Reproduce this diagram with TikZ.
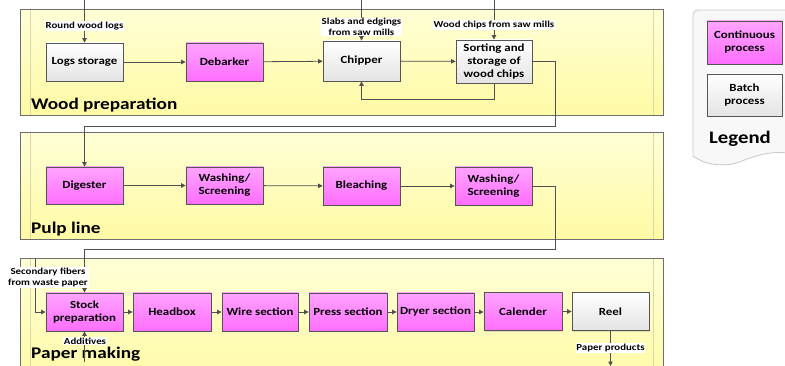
\documentclass[tikz,border=0pt]{standalone}
\usepackage{fontspec}
\setmainfont{Carlito}[FakeStretch=1.18]
\usetikzlibrary{arrows.meta,shadows}
\definecolor{pinktop}{HTML}{FFA4FF}
\definecolor{pinkbot}{HTML}{FF6EFF}
\definecolor{batchbot}{HTML}{E4E4E4}
\definecolor{boxline}{HTML}{555555}
\definecolor{connc}{HTML}{505050}
\definecolor{paneltop}{HTML}{FFFFD6}
\definecolor{panelbot}{HTML}{FFFAA4}
\definecolor{panelline}{HTML}{6E6E6E}
\definecolor{panelinner}{HTML}{D8D8A8}
\definecolor{legfill}{HTML}{F8F8F8}
\definecolor{legline}{HTML}{C8C8C8}
\begin{document}
\begin{tikzpicture}[x=1pt,y=-1pt,
  proc/.style={draw=boxline, line width=0.8pt, minimum width=77pt, minimum height=38pt,
    inner sep=1pt, align=center, font=\fontsize{10.9}{13}\selectfont\bfseries,
    drop shadow={shadow xshift=1.2pt,shadow yshift=-1.2pt,opacity=0.25}},
  cont/.style={proc, top color=pinktop, bottom color=pinkbot},
  batch/.style={proc, top color=white, bottom color=batchbot},
  lbl/.style={fill=white, inner sep=0.8pt, align=center, font=\fontsize{9.2}{10.5}\selectfont\bfseries},
  conn/.style={draw=connc, line width=0.8pt, -{Triangle[length=4.5pt,width=4.5pt]}},
  plain/.style={draw=connc, line width=0.8pt},
  panel/.style={draw=panelline, line width=1pt, top color=paneltop, bottom color=panelbot},
  inner/.style={draw=panelinner, line width=0.8pt},
  ptitle/.style={anchor=base west, inner sep=0pt, font=\fontsize{16.3}{18}\selectfont\bfseries}
]
\clip (0,0) rectangle (785,366);

% panels
\path[panel] (20,10) rectangle (663,116);
\draw[inner] (30,10.5) -- (30,115.5) (653,10.5) -- (653,115.5);
\path[panel] (20,133) rectangle (663,240);
\draw[inner] (30,133.5) -- (30,239.5) (653,133.5) -- (653,239.5);
\path[panel] (20,259) rectangle (663,390);
\draw[inner] (30,259.5) -- (30,390) (653,259.5) -- (653,390);

\node[ptitle] (t1) at (31,110) {Wood preparation};
\node[ptitle] (t2) at (31,234) {Pulp line};
\node[ptitle] (t3) at (31,359) {Paper making};

% legend
\path[draw=legline, fill=legfill, line width=0.8pt] (787,10) -- (699,10)
  .. controls (695,10) and (693,12) .. (693,16) -- (693,156)
  .. controls (705,165) and (725,168) .. (742,161)
  .. controls (757,155) and (772,151) .. (787,153) -- cycle;
\node[cont, minimum width=75pt, minimum height=43pt] (lc) at (744.5,42.5) {Continuous\\process};
\node[batch, minimum width=75pt, minimum height=42pt] (lb) at (744.5,95) {Batch\\process};
\node[anchor=base, inner sep=0pt, font=\fontsize{17.6}{19}\selectfont\bfseries] (lt) at (740,144) {Legend};

% wood preparation
\node[batch] (logs) at (84.5,62) {Logs storage};
\node[cont] (deb) at (224.5,62) {Debarker};
\node[batch, minimum height=40pt] (chip) at (361.5,61) {Chipper};
\node[batch, minimum width=76pt, minimum height=43pt] (sort) at (494,61.5) {Sorting and\\storage of\\wood chips};

% pulp line
\node[cont, minimum height=37pt] (dig) at (84.5,185.5) {Digester};
\node[cont, minimum height=37pt] (wash1) at (224.5,185.5) {Washing/\\Screening};
\node[cont] (bleach) at (361.5,186) {Bleaching};
\node[cont] (wash2) at (493.5,186) {Washing/\\Screening};

% paper making
\node[cont] (stock) at (84.5,312) {Stock\\preparation};
\node[cont, minimum width=78pt] (head) at (172,312) {Headbox};
\node[cont, minimum width=76pt] (wire) at (260,312) {Wire section};
\node[cont, minimum width=78pt] (press) at (348,312) {Press section};
\node[cont] (dryer) at (435.5,312) {Dryer section};
\node[cont, minimum width=78pt] (cal) at (523,311.5) {Calender};
\node[batch] (reel) at (610.5,311.5) {Reel};

% free ends
\coordinate (inLogs) at (84.5,0);
\coordinate (inSlabs) at (361.5,0);
\coordinate (inChips) at (494,0);
\coordinate (fbk) at (494,99);
\coordinate (c1) at (555,126);
\coordinate (c2) at (555,249);
\coordinate (inLeft) at (35,259);
\coordinate (inAdd) at (84.5,362);
\coordinate (outPaper) at (610.5,366);

% connectors
\draw[conn] (inLogs) -- (logs.north);
\draw[conn] (logs) -- (deb);
\draw[conn] (deb) -- (chip);
\draw[conn] (inSlabs) -- (chip.north);
\draw[conn] (chip) -- (sort);
\draw[conn] (inChips) -- (sort.north);
\draw[conn] (sort.south) -- (fbk) -| (chip.south);
\draw[conn] (sort.east) -| (c1) -| (dig.north);
\draw[conn] (dig) -- (wash1);
\draw[conn] (wash1) -- (bleach);
\draw[conn] (bleach) -- (wash2);
\draw[conn] (wash2.east) -| (c2) -| (stock.north);
\draw[conn] (inLeft) |- (stock.west);
\draw[conn] (inAdd) -- (stock.south);
\draw[conn] (stock) -- (head);
\draw[conn] (head) -- (wire);
\draw[conn] (wire) -- (press);
\draw[conn] (press) -- (dryer);
\draw[conn] (dryer.east) -- (cal.west |- dryer.east);
\draw[conn] (cal) -- (reel);
\draw[conn] (reel.south) -- (outPaper);

% labels
\node[lbl] (l1) at (84.5,26) {Round wood logs};
\node[lbl] (l2) at (361.5,27) {Slabs and edgings\\from saw mills};
\node[lbl] (l3) at (494,25) {Wood chips from saw mills};
\node[lbl] (l4) at (48,277.5) {Secondary fibers\\from waste paper};
\node[lbl] (l5) at (85,341) {Additives};
\node[lbl] (l6) at (610.5,348) {Paper products};
\end{tikzpicture}
\end{document}
